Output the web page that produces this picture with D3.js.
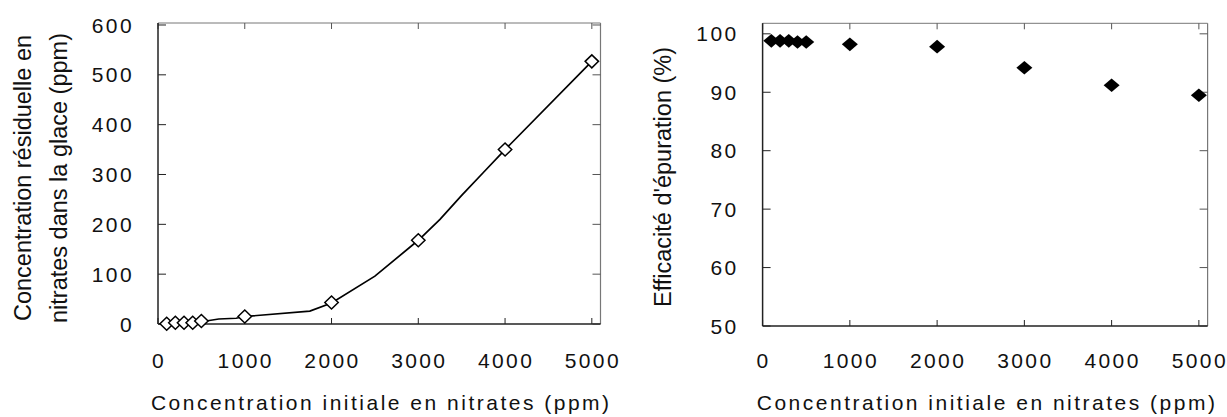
<!DOCTYPE html>
<html><head><meta charset="utf-8">
<script src="https://cdn.jsdelivr.net/npm/d3@7"></script>
<style>
html,body{margin:0;padding:0;background:#fff;}
svg{display:block;font-family:"Liberation Sans",Arial,sans-serif;}
</style></head>
<body>
<svg id="chart" width="1227" height="417"></svg>
<script>
// Data
const initialConc = [100, 200, 300, 400, 500, 1000, 2000, 3000, 4000, 5000];
const residualConc = [0.5, 2.5, 2.5, 2.5, 6, 15, 43, 168, 350, 527];
const trendX = [100, 500, 700, 900, 1000, 1750, 2000, 2500, 3000, 3250, 3500, 3750, 4000, 5000];
const trendY = [0, 4.5, 10, 11.5, 15, 26, 42, 96, 168, 210, 258, 304, 350, 527];
const efficiency = [98.8, 98.8, 98.8, 98.6, 98.6, 98.2, 97.8, 94.2, 91.2, 89.5];
const xTicks = [0, 1000, 2000, 3000, 4000, 5000];
const yTicksLeft = [0, 100, 200, 300, 400, 500, 600];
const yTicksRight = [50, 60, 70, 80, 90, 100];
const xTitle = "Concentration initiale en nitrates (ppm)";
const yTitleLeft = ["Concentration résiduelle en", "nitrates dans la glace (ppm)"];
const yTitleRight = "Efficacité d'épuration (%)";

const svg = d3.select("#chart");

function frame(g, x, y, xt, yt) {
  const [x0, x1] = x.range(), [y0, y1] = y.range();
  g.append("line").attr("x1", x0).attr("x2", x1).attr("y1", y1).attr("y2", y1).attr("stroke", "#777").attr("stroke-width", 1);
  g.append("line").attr("x1", x1).attr("x2", x1).attr("y1", y0).attr("y2", y1).attr("stroke", "#777").attr("stroke-width", 1.2);
  xt.forEach(v => {
    g.append("line").attr("x1", x(v)).attr("x2", x(v)).attr("y1", y0).attr("y2", y0 - 6).attr("stroke", "#222");
    g.append("line").attr("x1", x(v)).attr("x2", x(v)).attr("y1", y1).attr("y2", y1 + 6).attr("stroke", "#555");
  });
  yt.forEach(v => {
    g.append("line").attr("x1", x0).attr("x2", x0 + 8).attr("y1", y(v)).attr("y2", y(v)).attr("stroke", "#222");
    g.append("line").attr("x1", x1).attr("x2", x1 - 8).attr("y1", y(v)).attr("y2", y(v)).attr("stroke", "#555");
  });
  g.append("line").attr("x1", x0).attr("x2", x0).attr("y1", y0).attr("y2", y1).attr("stroke", "#222").attr("stroke-width", 1.5);
  g.append("line").attr("x1", x0).attr("x2", x1).attr("y1", y0).attr("y2", y0).attr("stroke", "#222").attr("stroke-width", 1.5);
  g.selectAll(null).data(xt).enter().append("text")
    .attr("x", d => x(d) + 1).attr("y", 368).attr("text-anchor", "middle")
    .attr("font-size", 21).attr("letter-spacing", "2.4px").attr("fill", "#111").text(d => d);
  g.selectAll(null).data(yt).enter().append("text")
    .attr("x", x0 - 24).attr("y", d => y(d)).attr("dy", "0.36em").attr("text-anchor", "end")
    .attr("font-size", 21).attr("letter-spacing", "2.4px").attr("fill", "#111").text(d => d);
  g.append("text").attr("x", (x0 + x1) / 2 + 2).attr("y", 410).attr("text-anchor", "middle")
    .attr("font-size", 21).attr("letter-spacing", "2.5px").attr("fill", "#111").text(xTitle);
}

function diamond(w, h) {
  return `M0,${-h}L${w},0L0,${h}L${-w},0Z`;
}

// Left chart
const xL = d3.scaleLinear().domain([0, 5100]).range([158, 600.5]);
const yL = d3.scaleLinear().domain([0, 604]).range([324, 23]);
const gL = svg.append("g");
frame(gL, xL, yL, xTicks, yTicksLeft);
gL.append("path")
  .datum(trendX.map((v, i) => [v, trendY[i]]))
  .attr("fill", "none").attr("stroke", "#000").attr("stroke-width", 1.7)
  .attr("d", d3.line().x(d => xL(d[0])).y(d => yL(d[1])));
gL.selectAll(null).data(initialConc).enter().append("path")
  .attr("transform", (d, i) => `translate(${xL(d)},${yL(residualConc[i])})`)
  .attr("d", diamond(6.7, 6.5)).attr("fill", "#fff").attr("stroke", "#000").attr("stroke-width", 1.5);
gL.append("text").attr("transform", "translate(31,178) rotate(-90)")
  .attr("text-anchor", "middle").attr("font-size", 23.5).attr("fill", "#111").text(yTitleLeft[0]);
gL.append("text").attr("transform", "translate(67,178) rotate(-90)")
  .attr("text-anchor", "middle").attr("font-size", 23.5).attr("fill", "#111").text(yTitleLeft[1]);

// Right chart
const xR = d3.scaleLinear().domain([0, 5100]).range([762.6, 1207.6]);
const yR = d3.scaleLinear().domain([50, 101.8]).range([326, 23.3]);
const gR = svg.append("g");
frame(gR, xR, yR, xTicks, yTicksRight);
gR.selectAll(null).data(initialConc).enter().append("path")
  .attr("transform", (d, i) => `translate(${xR(d)},${yR(efficiency[i])})`)
  .attr("d", diamond(8, 6.8)).attr("fill", "#000");
gR.append("text").attr("transform", "translate(671,177) rotate(-90)")
  .attr("text-anchor", "middle").attr("font-size", 23.5).attr("fill", "#111").text(yTitleRight);
</script>
</body></html>
